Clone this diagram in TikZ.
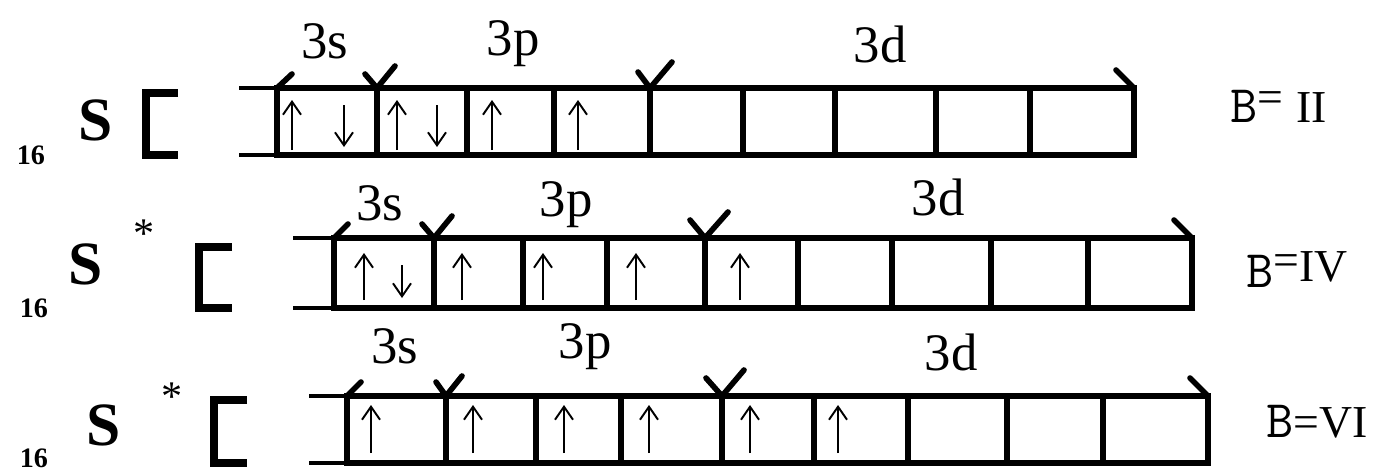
\documentclass[tikz,border=0pt]{standalone}
\usepackage{fontspec}
\setmainfont{Liberation Serif}
\usepackage{tikz}
\usetikzlibrary{arrows.meta}
\definecolor{OrbLine}{HTML}{000000}

\begin{document}
\begin{tikzpicture}[x=0.01cm,y=-0.01cm,
  box/.style={OrbLine,line width=1.6pt,line cap=round},
  stub/.style={OrbLine,line width=1pt},
  brk/.style={OrbLine,line width=2pt},
  el/.style={OrbLine,line width=0.55pt,-{Straight Barb[length=1.3mm,width=1.8mm]}},
  lvl/.style={anchor=base,inner sep=0pt,font=\fontsize{15}{18}\selectfont},
  sym/.style={inner sep=0pt,font=\fontsize{17.5}{20}\selectfont\bfseries},
  znum/.style={inner sep=0pt,font=\fontsize{8}{9}\selectfont\bfseries},
  star/.style={inner sep=0pt,font=\fontsize{12}{14}\selectfont},
  val/.style={anchor=base west,inner sep=0pt,font=\fontsize{13}{15}\selectfont}]
\path[use as bounding box,fill=white] (0,0) rectangle (1397,469);
\node[znum] (z1) at (31,155) {16};
\node[sym] (s1) at (96,120) {S};
\draw[brk] (178,93) -- (146,93) -- (146,155) -- (178,155);
\draw[stub] (239,88) -- (277,88) (239,155) -- (277,155);
\draw[box] (277,88) rectangle (1134,155);
\draw[box] (377,88) -- (377,155) (467,88) -- (467,155) (554,88) -- (554,155) (650,88) -- (650,155) (743,88) -- (743,155) (835,88) -- (835,155) (936,88) -- (936,155) (1030,88) -- (1030,155);
\draw[box] (277,88) -- (292,74);
\draw[box] (365,74) -- (377,88) -- (395,66);
\draw[box] (638,72) -- (650,88) -- (672,62);
\draw[box] (1116,70) -- (1134,88);
\draw[el] (292,150) -- (292,100);
\draw[el] (344,105) -- (344,147);
\draw[el] (397,150) -- (397,100);
\draw[el] (437,105) -- (437,147);
\draw[el] (492,150) -- (492,100);
\draw[el] (578,150) -- (578,100);
\node[lvl] (l1s) at (325,58) {3s};
\node[lvl] (l1p) at (513,55) {3p};
\node[lvl] (l1d) at (880,62) {3d};
\node[val] (v1) at (1230,122) {{\ttfamily\fontsize{15}{15}\selectfont B}\raisebox{.45ex}{=}\;II};
\node[znum] (z2) at (34,308) {16};
\node[sym] (s2) at (86,264) {S};
\node[star] (t2) at (144,234) {*};
\draw[brk] (232,247) -- (199,247) -- (199,308) -- (232,308);
\draw[stub] (293,238) -- (334,238) (293,308) -- (334,308);
\draw[box] (334,238) rectangle (1192,308);
\draw[box] (434,238) -- (434,308) (523,238) -- (523,308) (607,238) -- (607,308) (705,238) -- (705,308) (798,238) -- (798,308) (892,238) -- (892,308) (991,238) -- (991,308) (1088,238) -- (1088,308);
\draw[box] (334,238) -- (348,224);
\draw[box] (422,224) -- (434,238) -- (452,216);
\draw[box] (690,220) -- (705,238) -- (728,212);
\draw[box] (1174,220) -- (1192,238);
\draw[el] (364,300) -- (364,253);
\draw[el] (402,265) -- (402,298);
\draw[el] (462,300) -- (462,253);
\draw[el] (543,300) -- (543,253);
\draw[el] (636,300) -- (636,253);
\draw[el] (740,300) -- (740,253);
\node[lvl] (l2s) at (380,220) {3s};
\node[lvl] (l2p) at (566,216) {3p};
\node[lvl] (l2d) at (938,215) {3d};
\node[val] (v2) at (1246,287) {{\ttfamily\fontsize{15}{15}\selectfont B}\raisebox{.55ex}{=}\raisebox{.25ex}{IV}};
\node[znum] (z3) at (34,458) {16};
\node[sym] (s3) at (104,425) {S};
\node[star] (t3) at (172,397) {*};
\draw[brk] (247,400) -- (214,400) -- (214,463) -- (247,463);
\draw[stub] (309,396) -- (347,396) (309,463) -- (347,463);
\draw[box] (347,396) rectangle (1208,463);
\draw[box] (446,396) -- (446,463) (536,396) -- (536,463) (621,396) -- (621,463) (722,396) -- (722,463) (814,396) -- (814,463) (908,396) -- (908,463) (1007,396) -- (1007,463) (1103,396) -- (1103,463);
\draw[box] (347,396) -- (361,382);
\draw[box] (436,382) -- (446,396) -- (462,376);
\draw[box] (706,378) -- (722,396) -- (744,370);
\draw[box] (1190,378) -- (1208,396);
\draw[el] (371,453) -- (371,405);
\draw[el] (473,453) -- (473,405);
\draw[el] (564,453) -- (564,405);
\draw[el] (649,453) -- (649,405);
\draw[el] (750,453) -- (750,405);
\draw[el] (838,453) -- (838,405);
\node[lvl] (l3s) at (395,363) {3s};
\node[lvl] (l3p) at (585,358) {3p};
\node[lvl] (l3d) at (951,370) {3d};
\node[val] (v3) at (1266,437) {{\ttfamily\fontsize{15}{15}\selectfont B}=VI};
\end{tikzpicture}
\end{document}
